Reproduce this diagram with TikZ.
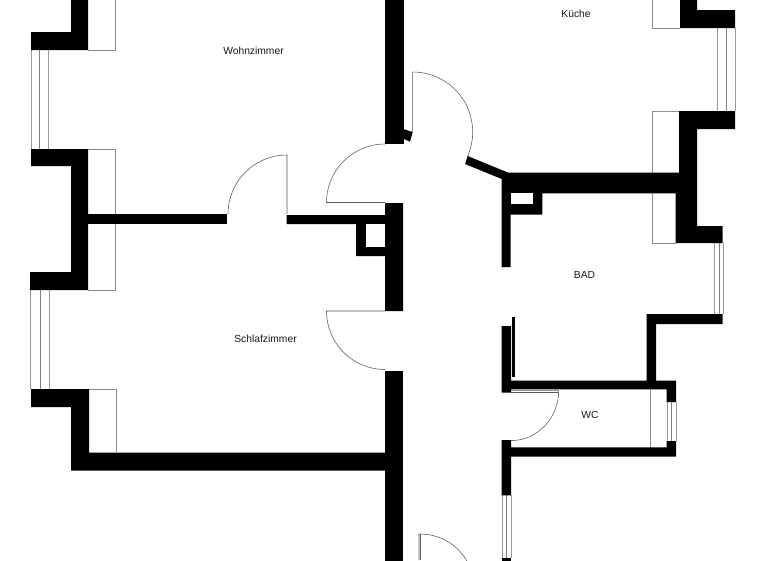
\documentclass[tikz,border=0pt]{standalone}
\usepackage{fontspec}
\setmainfont{Liberation Sans}
\tikzset{
  wall/.style={fill=black,draw=none},
  reveal/.style={draw=black!45,line width=0.6pt,fill=none},
  winline/.style={draw=black!40,line width=0.8pt},
  winmid/.style={draw=black!50,line width=1pt},
  door/.style={draw=black!65,line width=0.55pt,fill=none},
  label/.style={inner sep=0pt,font=\fontsize{10.3}{12}\selectfont,text=black!90}
}
\begin{document}
\begin{tikzpicture}[x=1pt,y=-1pt]
\useasboundingbox (0,0) rectangle (768,560);
\clip (0,0) rectangle (768,560);
\fill[white] (0,0) rectangle (768,560);
% reveals (left)
\draw[reveal] (88,-2) -- (115,-2) -- (115,50) -- (88,50);
\draw[reveal] (88,149) -- (115,149) -- (115,290) -- (88,290);
\draw[reveal] (89,389) -- (116,389) -- (116,452);
% reveals (right)
\draw[reveal] (680,-2) -- (652.5,-2) -- (652.5,28) -- (680,28);
\draw[reveal] (679,111) -- (652.5,111) -- (652.5,243) -- (676,243);
\draw[reveal] (650,389) -- (650,447.5);
% windows
\foreach \xa/\xb/\xc/\ya/\yb in {31/39.5/48/50/149, 30.5/40/49/290/389, 717.5/726/735/28/111, 714.5/719/723/243/314, 667/671.5/676/402/441, 502/506/511/495/558}{
  \draw[winline] (\xa,\ya) -- (\xa,\yb);
  \draw[winmid] (\xb,\ya) -- (\xb,\yb);
  \draw[winline] (\xc,\ya) -- (\xc,\yb);
}
% doors
\draw[door] (287,214) -- (287,155) arc[start angle=90,end angle=180,radius=59pt];
\draw[door] (385,144) arc[start angle=90,end angle=180,radius=58.5pt] -- (385,202.5);
\draw[door] (385,311) -- (326.5,311) arc[start angle=180,end angle=270,radius=58.5pt];
\draw[door] (412.7,132) -- (412.7,72) arc[start angle=90,end angle=-24,radius=60pt];
\draw[door] (511,390.6) -- (558.7,390.6) arc[start angle=0,end angle=-90,x radius=47.7pt,y radius=50pt];
\draw[door] (511,392.2) -- (558.7,392.2);
\draw[door] (419,560) -- (419,534) -- (420.2,534) arc[start angle=90,end angle=0,radius=54pt];
\draw[door] (420.2,534) -- (420.2,560);
% walls: left outer
\fill[wall] (71,-2) -- (88,-2) -- (88,50) -- (31,50) -- (31,32) -- (71,32) -- cycle;
\fill[wall] (31,149) -- (88,149) -- (88,290) -- (30,290) -- (30,272) -- (71,272) -- (71,166) -- (31,166) -- cycle;
\fill[wall] (31,389) -- (89,389) -- (89,452.5) -- (385,452.5) -- (385,470.5) -- (71,470.5) -- (71,407) -- (31,407) -- cycle;
\fill[wall] (88,214) rectangle (227,224);
% walls: central
\fill[wall] (385,-2) rectangle (403.5,144);
\fill[wall] (404,129.3) -- (412.7,132) -- (410,141.7) -- (404,139) -- cycle;
\fill[wall] (385,203) -- (403,203) -- (403,311) -- (385,311) -- (385,256) -- (356,256) -- (356,224) -- (286.5,224) -- (286.5,215) -- (385,215) -- cycle;
\fill[white] (366,224) rectangle (385,247);
\fill[wall] (385,371) rectangle (403,562);
% walls: bath / kitchen
\fill[wall] (467.7,156) -- (508.3,172.7) -- (679,172.7) -- (679,111) -- (735,111) -- (735,129) -- (697,129) -- (697,226) -- (722.7,226) -- (722.7,243) -- (675.7,243) -- (675.7,193.3) -- (542.3,193.3) -- (542.3,214.5) -- (510.7,214.5) -- (510.7,267) -- (501.7,267) -- (501.7,179) -- (465,164) -- cycle;
\fill[white] (510.7,193.3) rectangle (532.7,204.3);
\fill[wall] (680,-2) -- (697,-2) -- (697,10) -- (735,10) -- (735,28) -- (680,28) -- cycle;
\fill[wall] (646.7,314) -- (722.7,314) -- (722.7,324) -- (656,324) -- (656,380.7) -- (676,380.7) -- (676,402) -- (666.7,402) -- (666.7,389.3) -- (511,389.3) -- (511,392.7) -- (501.7,392.7) -- (501.7,326) -- (511,326) -- (511,380.7) -- (646.7,380.7) -- cycle;
\fill[wall] (512,317.3) rectangle (515,377);
\fill[wall] (501.7,440) -- (511,440) -- (511,447.3) -- (666.7,447.3) -- (666.7,441) -- (676,441) -- (676,456.7) -- (511,456.7) -- (511,495.3) -- (501.7,495.3) -- cycle;
\fill[wall] (501.7,558) rectangle (511,562);
% labels
\node[label] (wohn) at (253.5,50.5) {Wohnzimmer};
\node[label] (kueche) at (576,13.5) {Küche};
\node[label] (bad) at (584.5,274.5) {BAD};
\node[label] (schlaf) at (265.5,338.5) {Schlafzimmer};
\node[label] (wc) at (590,414.5) {WC};
\end{tikzpicture}
\end{document}
